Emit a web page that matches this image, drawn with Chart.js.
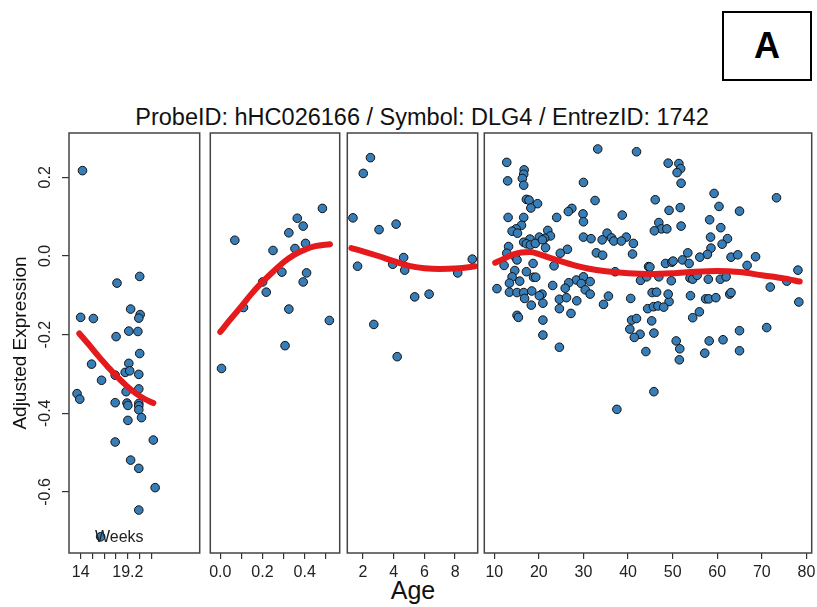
<!DOCTYPE html>
<html><head><meta charset="utf-8">
<script src="https://cdn.jsdelivr.net/npm/chart.js@4/dist/chart.umd.min.js"></script>
<style>
html,body{margin:0;padding:0;background:#fff;overflow:hidden;}
#wrap{position:relative;width:817px;height:607px;font-family:"Liberation Sans",Arial,sans-serif;}
canvas{position:absolute;}
.t{position:absolute;white-space:nowrap;color:#111;}
</style></head><body><div id="wrap">
<div style="position:absolute;left:722px;top:11px;width:90px;height:70px;border:2px solid #000;box-sizing:border-box;display:flex;align-items:center;justify-content:center;font:bold 36px 'Liberation Sans',Arial,sans-serif;">A</div>
<div class="t" style="left:0;width:844px;text-align:center;top:103px;font-size:23.5px;line-height:28px;">ProbeID: hHC026166 / Symbol: DLG4 / EntrezID: 1742</div>
<div class="t" style="left:0;width:826px;text-align:center;top:575px;font-size:25px;line-height:30px;">Age</div>
</div>
<script>
// ---- data ----
const yTicks = [-0.6, -0.4, -0.2, 0.0, 0.2];
const yTickLabels = ['-0.6', '-0.4', '-0.2', '0.0', '0.2'];

const fetalTicks = [14, 15.3, 16.6, 17.9, 19.2, 20.5, 21.8];
const fetalTickLabels = ['14', '', '', '', '19.2', '', ''];
const infantTicks = [0, 0.1, 0.2, 0.3, 0.4, 0.5];
const infantTickLabels = ['0.0', '', '0.2', '', '0.4', ''];
const childTicks = [2, 4, 6, 8];
const childTickLabels = ['2', '4', '6', '8'];
const adultTicks = [10, 20, 30, 40, 50, 60, 70, 80];
const adultTickLabels = ['10', '20', '30', '40', '50', '60', '70', '80'];

const fetalPoints = [[14.2,0.217],[20.5,-0.052],[18.0,-0.069],[14.0,-0.156],[15.4,-0.159],[19.5,-0.135],[20.55,-0.149],[20.4,-0.158],[19.3,-0.191],[20.3,-0.192],[17.9,-0.205],[20.5,-0.248],[15.2,-0.275],[19.3,-0.273],[18.9,-0.296],[19.4,-0.292],[20.4,-0.301],[17.8,-0.303],[16.3,-0.316],[20.4,-0.338],[19.0,-0.345],[13.6,-0.350],[13.9,-0.364],[17.8,-0.373],[19.1,-0.374],[19.2,-0.380],[20.4,-0.375],[20.4,-0.381],[20.4,-0.391],[19.2,-0.418],[20.7,-0.411],[17.8,-0.473],[22.0,-0.468],[19.5,-0.519],[20.4,-0.540],[22.2,-0.589],[20.4,-0.646],[16.2,-0.714]];
const fetalFit = [[13.85,-0.197],[15,-0.228],[16,-0.256],[17,-0.282],[18,-0.307],[19,-0.329],[20,-0.348],[21,-0.363],[22,-0.374]];

const infantPoints = [[0.484,0.121],[0.365,0.096],[0.393,0.076],[0.325,0.059],[0.069,0.040],[0.354,0.019],[0.404,0.032],[0.25,0.014],[0.292,-0.041],[0.409,-0.043],[0.393,-0.066],[0.201,-0.066],[0.218,-0.092],[0.110,-0.131],[0.325,-0.135],[0.517,-0.164],[0.307,-0.228],[0.006,-0.286]];
const infantFit = [[0,-0.193],[0.05,-0.16],[0.1,-0.128],[0.15,-0.095],[0.2,-0.066],[0.25,-0.04],[0.3,-0.016],[0.35,0.003],[0.4,0.016],[0.45,0.025],[0.52,0.030]];

const childPoints = [[2.49,0.250],[2.02,0.210],[1.35,0.097],[4.16,0.081],[3.05,0.067],[1.65,-0.026],[4.65,-0.004],[3.94,-0.021],[4.72,-0.036],[9.12,-0.008],[8.17,-0.043],[5.37,-0.104],[6.31,-0.097],[2.71,-0.174],[4.23,-0.256]];
const childFit = [[1.25,0.020],[2,0.012],[3,0.0],[4,-0.013],[5,-0.025],[6,-0.031],[7,-0.033],[8,-0.032],[9,-0.028],[9.3,-0.026]];

const adultPoints = [[33.2,0.272],[41.9,0.265],[12.8,0.238],[16.7,0.219],[16.6,0.208],[16.3,0.197],[13.0,0.191],[30.0,0.187],[16.6,0.180],[17.2,0.144],[17.8,0.142],[32.6,0.141],[19.7,0.133],[18.2,0.122],[27.4,0.121],[26.6,0.113],[29.9,0.107],[38.7,0.104],[13.1,0.098],[16.6,0.098],[24.0,0.098],[30.0,0.087],[16.1,0.078],[14.9,0.069],[14.0,0.063],[15.2,0.058],[22.0,0.065],[35.3,0.058],[30.0,0.048],[31.7,0.044],[34.2,0.041],[36.3,0.046],[36.8,0.038],[39.6,0.048],[38.5,0.038],[22.6,0.051],[21.3,0.045],[20.1,0.048],[18.0,0.043],[16.6,0.035],[17.2,0.031],[18.1,0.028],[19.2,0.032],[20.8,0.041],[41.2,0.032],[21.5,0.021],[13.2,0.024],[26.4,0.017],[24.8,0.007],[32.9,0.008],[34.3,0.002],[41.0,0.005],[12.8,0.007],[14.7,-0.002],[15.1,-0.010],[18.7,-0.019],[23.4,-0.025],[12.2,-0.024],[14.6,-0.037],[17.2,-0.040],[37.1,-0.040],[44.6,-0.027],[14.0,-0.053],[18.8,-0.054],[19.3,-0.054],[15.7,-0.064],[28.4,-0.061],[30.0,-0.053],[29.5,-0.070],[31.5,-0.065],[26.7,-0.068],[23.1,-0.075],[13.4,-0.069],[10.6,-0.083],[42.8,-0.062],[25.9,-0.082],[30.4,-0.086],[13.4,-0.092],[15.1,-0.093],[16.6,-0.093],[18.4,-0.089],[20.7,-0.097],[20.1,-0.101],[31.5,-0.097],[16.8,-0.108],[24.6,-0.110],[26.2,-0.106],[28.5,-0.114],[35.6,-0.102],[40.6,-0.108],[20.9,-0.120],[18.3,-0.125],[34.5,-0.123],[24.6,-0.134],[27.2,-0.146],[15.1,-0.151],[15.4,-0.156],[20.9,-0.163],[40.8,-0.163],[41.9,-0.159],[40.4,-0.186],[42.7,-0.199],[41.4,-0.207],[20.9,-0.201],[24.6,-0.232],[44.0,-0.243],[37.5,-0.390],
[45.8,-0.345],[45.3,-0.165],[45.8,-0.196],[50.8,-0.216],[51.6,-0.236],[51.5,-0.264],[57.2,-0.247],[58.2,-0.216],[61.3,-0.213],[65.0,-0.190],[65.0,-0.241],[71.1,-0.182],[54.5,-0.157],[56.0,-0.142],[78.3,-0.117],[49.2,-0.116],[44.4,-0.134],[45.7,-0.129],[46.7,-0.127],[48.0,-0.130],
[49.0,0.236],[51.4,0.235],[51.8,0.222],[51.0,0.212],[51.9,0.185],[73.3,0.148],[59.3,0.159],[46.1,0.143],[60.4,0.126],[49.2,0.116],[51.7,0.123],[65.0,0.114],[58.3,0.092],[46.9,0.085],[47.5,0.069],[48.7,0.069],[45.9,0.064],[51.9,0.076],[60.8,0.072],[58.5,0.048],[62.3,0.044],[61.1,0.030],[58.6,0.020],[53.4,0.008],[57.8,0.004],[56.1,-0.003],[63.1,-0.003],[64.6,0.003],[68.6,-0.002],[48.4,-0.019],[49.8,-0.016],[50.1,-0.013],[52.2,-0.010],[53.7,-0.019],[44.9,-0.028],[66.7,-0.024],[78.1,-0.036],[46.9,-0.053],[44.2,-0.053],[49.7,-0.063],[53.9,-0.056],[54.5,-0.059],[55.5,-0.049],[58.0,-0.059],[60.7,-0.059],[62.0,-0.053],[75.6,-0.064],[71.9,-0.079],[45.4,-0.093],[46.4,-0.092],[49.0,-0.097],[54.0,-0.101],[57.4,-0.109],[58.1,-0.109],[59.7,-0.106],[62.8,-0.097],[63.1,-0.093]];
const adultFit = [[10.2,-0.017],[12,-0.008],[14,0.003],[16,0.009],[18,0.010],[20,0.005],[22,-0.003],[25,-0.014],[28,-0.024],[31,-0.032],[35,-0.039],[40,-0.044],[45,-0.046],[50,-0.044],[55,-0.040],[60,-0.038],[65,-0.041],[70,-0.049],[75,-0.057],[78.5,-0.065]];

// ---- drawing ----
const FONT = '"Liberation Sans", Arial, sans-serif';
const Y_MIN = -0.7552, Y_MAX = 0.3127;
const framePlugin = {id:'frame', afterDatasetsDraw(chart){
  const {ctx, chartArea:a} = chart; ctx.save(); ctx.strokeStyle = '#444'; ctx.lineWidth = 1.5;
  ctx.strokeRect(a.left, a.top, a.right - a.left, a.bottom - a.top); ctx.restore();
}};

function panel(cfg){
  const wrap = document.getElementById('wrap');
  const c = document.createElement('canvas');
  c.width = cfg.width; c.height = 484;
  c.style.left = cfg.left + 'px'; c.style.top = '123px';
  c.style.width = cfg.width + 'px'; c.style.height = '484px';
  wrap.appendChild(c);
  new Chart(c, {
    type: 'scatter',
    data: { datasets: [
      { data: cfg.fit.map(([x,y]) => ({x,y})), showLine: true, borderColor: '#E41A1C', borderWidth: 6,
        pointRadius: 0, cubicInterpolationMode: 'monotone', borderCapStyle: 'round', fill: false, order: 0 },
      { data: cfg.pts.map(([x,y]) => ({x,y})), backgroundColor: '#377EB8', borderColor: '#111',
        borderWidth: 1, pointRadius: 4.3, order: 1 }
    ]},
    options: {
      responsive: false, animation: false, devicePixelRatio: 1,
      layout: { padding: { left: cfg.padL, right: 5, top: 10, bottom: 0 } },
      plugins: { legend: { display: false }, tooltip: { enabled: false } },
      scales: {
        x: { type: 'linear', min: cfg.xmin, max: cfg.xmax,
          afterBuildTicks: s => { s.ticks = cfg.ticks.map(v => ({value: v})); },
          afterFit: s => { s.height = 54; s.paddingLeft = 0; s.paddingRight = 0; },
          ticks: { autoSkip: false, maxRotation: 0, minRotation: 0, padding: 4, color: '#222',
            font: { family: FONT, size: 16 }, callback: (v, i) => cfg.labels[i] },
          grid: { drawOnChartArea: false, drawTicks: true, tickLength: 6, color: '#333', lineWidth: 1.2 },
          border: { display: false } },
        y: { type: 'linear', min: Y_MIN, max: Y_MAX, display: cfg.showY,
          afterBuildTicks: s => { s.ticks = yTicks.map(v => ({value: v})); },
          afterFit: s => { s.width = cfg.showY ? 69 : 0; s.paddingTop = 0; s.paddingBottom = 0; },
          ticks: { minRotation: 90, maxRotation: 90, crossAlign: 'center', padding: 3, color: '#222',
            font: { family: FONT, size: 16 }, callback: (v, i) => yTickLabels[i] },
          grid: { drawOnChartArea: false, drawTicks: true, tickLength: 7, color: '#333', lineWidth: 1.2 },
          border: { display: false },
          title: { display: true, text: 'Adjusted Expression', color: '#111', font: { family: FONT, size: 19 },
            padding: { top: 9, bottom: 0 } } }
      }
    },
    plugins: [framePlugin]
  });
}

panel({left:0, width:205, padL:0, showY:true, xmin:12.715, xmax:27.106, ticks:fetalTicks, labels:fetalTickLabels, pts:fetalPoints, fit:fetalFit});
panel({left:205, width:140, padL:5, showY:false, xmin:-0.0472, xmax:0.566, ticks:infantTicks, labels:infantTickLabels, pts:infantPoints, fit:infantFit});
panel({left:342, width:141, padL:5, showY:false, xmin:0.982, xmax:9.473, ticks:childTicks, labels:childTickLabels, pts:childPoints, fit:childFit});
panel({left:479, width:338, padL:5, showY:false, xmin:7.761, xmax:81.19, ticks:adultTicks, labels:adultTickLabels, pts:adultPoints, fit:adultFit});

const wk = document.createElement('div');
wk.className = 't'; wk.textContent = 'Weeks';
wk.style.cssText = 'left:95px;top:528px;font-size:16px;line-height:18px;color:#222;';
document.getElementById('wrap').appendChild(wk);
</script>
</body></html>
